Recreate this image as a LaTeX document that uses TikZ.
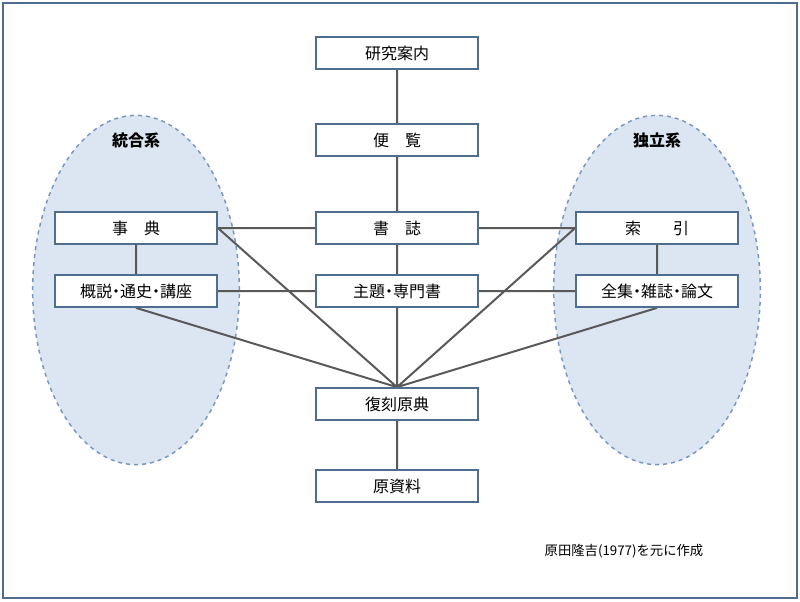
\documentclass[tikz,border=0pt]{standalone}
\usepackage{fontspec}
\usetikzlibrary{shapes.geometric,backgrounds}
\newfontfamily\cjk{Noto Sans CJK JP}
\definecolor{boxb}{HTML}{4F6D8F}
\definecolor{ellf}{HTML}{DCE6F2}
\definecolor{elld}{HTML}{7896BE}
\definecolor{lnc}{HTML}{595959}
\newcommand{\md}{\hspace{-0.25em}・\hspace{-0.25em}}
\begin{document}
\begin{tikzpicture}[x=0.75pt,y=-0.75pt,
  bx/.style={draw=boxb,line width=1.3pt,fill=white,minimum width=121.5pt,minimum height=24pt,inner sep=0pt,font=\cjk\fontsize{12}{14}\selectfont},
  el/.style={draw=elld,dashed,line width=1.1pt,fill=ellf,ellipse,minimum width=155pt,minimum height=262pt},
  ln/.style={draw=lnc,line width=1.5pt}]
\useasboundingbox (0,0) rectangle (800,601);
\node[font=\cjk\bfseries\fontsize{12}{14}\selectfont] (tL) at (136,140) {統合系};
\node[font=\cjk\bfseries\fontsize{12}{14}\selectfont] (tR) at (657,140) {独立系};
\node[bx] (a) at (397,53) {研究案内};
\node[bx] (b) at (397,140) {便\quad 覧};
\node[bx] (c) at (397,228) {書\quad 誌};
\node[bx] (d) at (397,291) {主題\md 専門書};
\node[bx] (e) at (397,404) {復刻原典};
\node[bx] (f) at (397,486) {原資料};
\node[bx] (g) at (136,228) {事\quad 典};
\node[bx] (h) at (136,291) {概説\md 通史\md 講座};
\node[bx] (i) at (657,228) {索\qquad 引};
\node[bx] (j) at (657,291) {全集\md 雑誌\md 論文};
\node[font=\cjk\fontsize{10}{12}\selectfont] (cap) at (624,551) {原田隆吉(1977)を元に作成};
\begin{scope}[on background layer]
\draw[boxb,line width=1.3pt] (3,3) rectangle (797,598);
\node[el] (eL) at (136,290) {};
\node[el] (eR) at (657,290) {};
\path[ln] (a) -- (b) (b) -- (c) (c) -- (d) (d) -- (e) (e) -- (f)
  (g) -- (c) (c) -- (i) (h) -- (d) (d) -- (j) (g) -- (h) (i) -- (j)
  (g.east) -- (e.north) (h.south) -- (e.north) (i.west) -- (e.north) (j.south) -- (e.north);
\end{scope}
\end{tikzpicture}
\end{document}
